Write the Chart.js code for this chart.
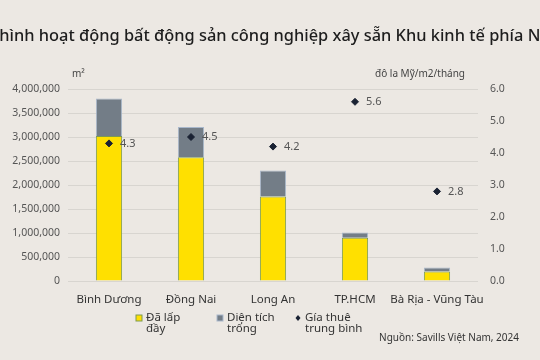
<!DOCTYPE html>
<html>
<head>
<meta charset="utf-8">
<script src="https://cdn.jsdelivr.net/npm/chart.js@4"></script>
<style>
  html, body { margin: 0; padding: 0; background: #ece8e3; }
  #wrap { width: 540px; height: 360px; position: relative; }
</style>
</head>
<body>
<div id="wrap"><canvas id="bds"></canvas></div>
<script>
const tinhThanh = ['Bình Dương', 'Đồng Nai', 'Long An', 'TP.HCM', 'Bà Rịa - Vũng Tàu'];
const daLapDay = [3020000, 2580000, 1760000, 900000, 200000];
const dienTichTrong = [780000, 630000, 540000, 110000, 80000];
const giaThue = [4.3, 4.5, 4.2, 5.6, 2.8];
const nhanTrai = ['0', '500,000', '1,000,000', '1,500,000', '2,000,000', '2,500,000', '3,000,000', '3,500,000', '4,000,000'];
const nhanPhai = ['0.0', '1.0', '2.0', '3.0', '4.0', '5.0', '6.0'];

const tieuDe = 'Tình hình hoạt động bất động sản công nghiệp xây sẵn Khu kinh tế phía Nam';
const fontChu = "'Noto Sans', sans-serif";

const veThem = {
  id: 'veThem',
  afterDraw(chart) {
    const ctx = chart.ctx;
    ctx.save();
    // tieu de
    ctx.fillStyle = '#1d1d1d';
    ctx.font = '500 16.4px ' + fontChu;
    ctx.textAlign = 'center';
    ctx.textBaseline = 'middle';
    ctx.fillText(tieuDe, 263, 36);

    // don vi
    ctx.fillStyle = '#444';
    ctx.font = '10px ' + fontChu;
    ctx.textAlign = 'left';
    ctx.fillText('m²', 72, 74);
    ctx.textAlign = 'right';
    ctx.fillText('đô la Mỹ/m2/tháng', 465, 74);

    // nhan gia thue
    const meta = chart.getDatasetMeta(2);
    ctx.font = '11px ' + fontChu;
    ctx.fillStyle = '#555';
    ctx.textAlign = 'left';
    meta.data.forEach((p, i) => {
      ctx.fillText(giaThue[i].toFixed(1), p.x + 11, p.y);
    });

    // chu thich
    ctx.font = '11.5px ' + fontChu;
    const mucs = [
      { x: 139, dong: ['Đã lấp', 'đầy'], kieu: 'vang' },
      { x: 220, dong: ['Diện tích', 'trống'], kieu: 'xam' },
      { x: 298, dong: ['Gía thuê', 'trung bình'], kieu: 'thoi' }
    ];
    mucs.forEach((m) => {
      if (m.kieu === 'vang') {
        ctx.fillStyle = '#ffe000';
        ctx.fillRect(m.x - 3, 315, 6, 6);
        ctx.strokeStyle = '#7d9a52';
        ctx.lineWidth = 1;
        ctx.strokeRect(m.x - 3, 315, 6, 6);
      } else if (m.kieu === 'xam') {
        ctx.fillStyle = '#737d87';
        ctx.fillRect(m.x - 3, 315, 6, 6);
        ctx.strokeStyle = '#a9b8cc';
        ctx.strokeRect(m.x - 3, 315, 6, 6);
      } else {
        ctx.fillStyle = '#1a2233';
        ctx.beginPath();
        ctx.moveTo(m.x, 315);
        ctx.lineTo(m.x + 2.5, 318);
        ctx.lineTo(m.x, 321);
        ctx.lineTo(m.x - 2.5, 318);
        ctx.closePath();
        ctx.fill();
      }
      ctx.fillStyle = '#333';
      ctx.textAlign = 'left';
      ctx.fillText(m.dong[0], m.x + 7, 318);
      ctx.fillText(m.dong[1], m.x + 7, 329);
    });

    // nguon
    ctx.font = '10px ' + fontChu;
    ctx.textAlign = 'right';
    ctx.fillStyle = '#333';
    ctx.fillText('Nguồn: Savills Việt Nam, 2024', 519, 338);
    ctx.restore();
  }
};

new Chart(document.getElementById('bds'), {
  data: {
    labels: tinhThanh,
    datasets: [{
      type: 'bar',
      label: 'Đã lấp đầy',
      data: daLapDay,
      backgroundColor: '#ffe000',
      borderColor: '#7d9a52',
      borderWidth: 1,
      stack: 's',
      yAxisID: 'y',
      order: 2
    }, {
      type: 'bar',
      label: 'Diện tích trống',
      data: dienTichTrong,
      backgroundColor: '#737d87',
      borderColor: '#a9b8cc',
      borderWidth: 1,
      stack: 's',
      yAxisID: 'y',
      order: 2
    }, {
      type: 'line',
      label: 'Gía thuê trung bình',
      data: giaThue,
      showLine: false,
      pointStyle: 'rectRot',
      pointRadius: 3.5,
      backgroundColor: '#1a2233',
      borderColor: '#1a2233',
      yAxisID: 'y1',
      order: 1
    }]
  },
  options: {
    responsive: true,
    maintainAspectRatio: false,
    animation: false,
    layout: {
      padding: { top: 89, bottom: 53, left: 0, right: 0 }
    },
    datasets: {
      bar: { barPercentage: 0.32, categoryPercentage: 1 }
    },
    plugins: {
      legend: { display: false },
      tooltip: { enabled: false }
    },
    scales: {
      x: {
        stacked: true,
        grid: { display: false },
        border: { display: false },
        ticks: {
          color: '#333',
          font: { size: 11.5, family: fontChu },
          maxRotation: 0,
          autoSkip: false,
          padding: 4
        },
        afterFit: (s) => { s.height = 26; }
      },
      y: {
        type: 'linear',
        position: 'left',
        stacked: true,
        min: 0,
        max: 4000000,
        grid: { color: '#d8d5d0', drawTicks: false },
        border: { display: false },
        ticks: {
          stepSize: 500000,
          color: '#555',
          padding: 8,
          font: { size: 10.5, family: fontChu },
          callback: (v, i) => nhanTrai[i]
        },
        afterFit: (s) => { s.width = 68; }
      },
      y1: {
        type: 'linear',
        position: 'right',
        min: 0,
        max: 6,
        grid: { drawOnChartArea: false, drawTicks: false },
        border: { display: false },
        ticks: {
          stepSize: 1,
          color: '#555',
          padding: 12,
          font: { size: 10.5, family: fontChu },
          callback: (v, i) => nhanPhai[i]
        },
        afterFit: (s) => { s.width = 62; }
      }
    }
  },
  plugins: [veThem]
});
</script>
</body>
</html>
